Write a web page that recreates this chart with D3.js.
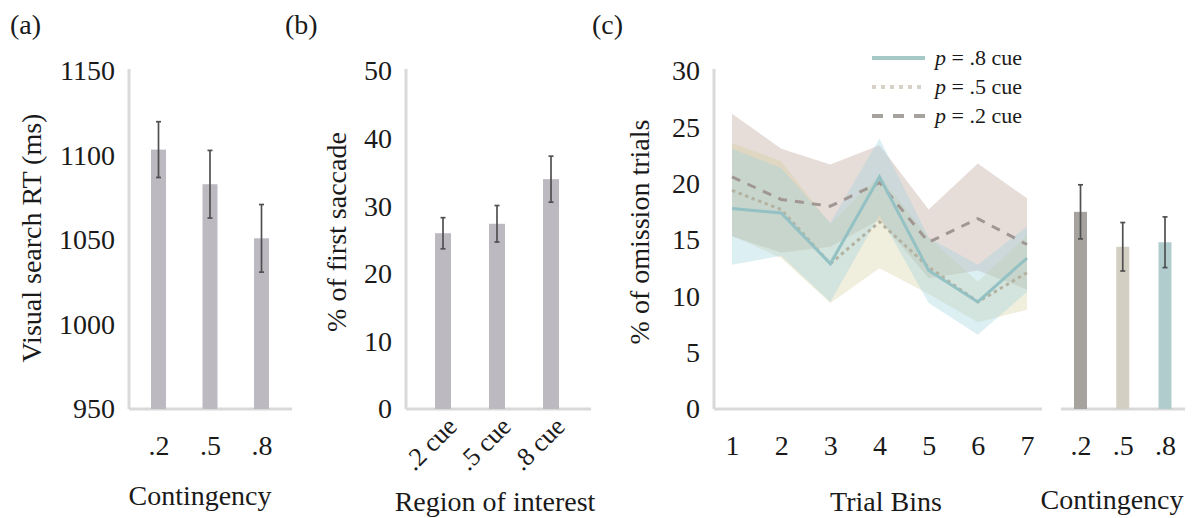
<!DOCTYPE html>
<html>
<head>
<meta charset="utf-8">
<script src="https://cdn.jsdelivr.net/npm/d3@7/dist/d3.min.js"></script>
<style>
  html, body { margin: 0; padding: 0; background: #fff; }
  svg { display: block; }
  text { font-family: "Liberation Serif", "DejaVu Serif", serif; fill: #1a1a1a; }
</style>
</head>
<body>
<svg id="chart" width="1200" height="518"></svg>
<script>
// ---- Panel (a): visual search RT by contingency ----
const rtCategories = [".2", ".5", ".8"];
const rtMeans = [1103.5, 1083, 1051];
const rtErrors = [16.5, 20, 20];
const rtTicks = [950, 1000, 1050, 1100, 1150];

// ---- Panel (b): first saccade by region of interest ----
const roiCategories = [".2 cue", ".5 cue", ".8 cue"];
const roiMeans = [26.0, 27.4, 34.0];
const roiErrors = [2.3, 2.7, 3.4];
const roiTicks = [0, 10, 20, 30, 40, 50];

// ---- Panel (c): omission trials across trial bins ----
const trialBins = [1, 2, 3, 4, 5, 6, 7];
const omissionTicks = [0, 5, 10, 15, 20, 25, 30];
const seriesNames = ["p = .8 cue", "p = .5 cue", "p = .2 cue"];
const p8Mean = [17.8, 17.4, 12.9, 20.6, 12.3, 9.5, 13.4];
const p8Upper = [23.1, 21.4, 16.5, 24.0, 15.2, 12.8, 16.2];
const p8Lower = [12.8, 13.6, 9.5, 17.2, 9.4, 6.6, 10.4];
const p5Mean = [19.4, 17.7, 12.9, 16.6, 12.6, 9.5, 12.1];
const p5Upper = [23.6, 22.0, 16.4, 20.7, 15.2, 11.3, 15.4];
const p5Lower = [15.4, 13.4, 9.4, 12.5, 10.2, 7.7, 8.8];
const p2Mean = [20.6, 18.6, 18.0, 20.1, 14.8, 16.9, 14.6];
const p2Upper = [26.2, 23.1, 21.7, 23.4, 17.7, 21.8, 18.7];
const p2Lower = [15.3, 13.9, 14.4, 16.8, 11.6, 12.3, 10.6];

// ---- Panel (c), right: overall omission by contingency ----
const contCategories = [".2", ".5", ".8"];
const contMeans = [17.5, 14.4, 14.8];
const contErrors = [2.4, 2.15, 2.25];

const svg = d3.select("#chart");
const AXIS = "#d9d9d9";
const BAR = "#bcb9c1";
const ERR = "#505050";
const TICK_FONT = 28;
const LABEL_FONT = 28;
const baseY = 409, topY = 71;

function leftAxis(scale, x, ticks) {
  const g = svg.append("g").attr("transform", `translate(${x},0)`)
    .call(d3.axisLeft(scale).tickValues(ticks).tickSize(0).tickPadding(14).tickFormat(d3.format("d")));
  g.select(".domain").remove();
  g.selectAll("text").style("font-size", TICK_FONT + "px").attr("font-family", null);
  svg.append("line").attr("x1", x).attr("x2", x).attr("y1", scale.range()[1] - 2).attr("y2", scale.range()[0])
    .attr("stroke", AXIS).attr("stroke-width", 3);
}
function baseline(x1, x2) {
  svg.append("line").attr("x1", x1).attr("x2", x2).attr("y1", baseY).attr("y2", baseY)
    .attr("stroke", AXIS).attr("stroke-width", 3);
}
function bottomLabels(scale, padding) {
  const g = svg.append("g").attr("transform", `translate(0,${baseY})`)
    .call(d3.axisBottom(scale).tickSize(0).tickPadding(padding));
  g.select(".domain").remove();
  g.selectAll("text").style("font-size", TICK_FONT + "px").attr("font-family", null);
  return g;
}
function bars(xs, ys, cats, means, errs, width, colors) {
  const g = svg.append("g");
  g.selectAll("rect").data(cats).join("rect")
    .attr("x", (d) => xs(d) - width / 2)
    .attr("width", width)
    .attr("y", (d, i) => ys(means[i]))
    .attr("height", (d, i) => ys.range()[0] - ys(means[i]))
    .attr("fill", (d, i) => Array.isArray(colors) ? colors[i] : colors);
  const eb = g.selectAll("g.err").data(cats).join("g").attr("class", "err");
  eb.append("line").attr("x1", (d) => xs(d)).attr("x2", (d) => xs(d))
    .attr("y1", (d, i) => ys(means[i] + errs[i])).attr("y2", (d, i) => ys(means[i] - errs[i]));
  eb.append("line").attr("x1", (d) => xs(d) - 2.5).attr("x2", (d) => xs(d) + 2.5)
    .attr("y1", (d, i) => ys(means[i] + errs[i])).attr("y2", (d, i) => ys(means[i] + errs[i]));
  eb.append("line").attr("x1", (d) => xs(d) - 2.5).attr("x2", (d) => xs(d) + 2.5)
    .attr("y1", (d, i) => ys(means[i] - errs[i])).attr("y2", (d, i) => ys(means[i] - errs[i]));
  eb.selectAll("line").attr("stroke", ERR).attr("stroke-width", 1.7);
}
function title(txt, x, y) {
  svg.append("text").attr("x", x).attr("y", y).attr("text-anchor", "middle").attr("dy", "0.3em")
    .style("font-size", LABEL_FONT + "px").text(txt);
}
function yTitle(txt, x, y) {
  svg.append("text").attr("transform", `translate(${x},${y}) rotate(-90)`).attr("text-anchor", "middle")
    .attr("dy", "0.3em").style("font-size", LABEL_FONT + "px").text(txt);
}
function panelTag(txt, x) {
  svg.append("text").attr("x", x).attr("y", 34).style("font-size", "28px").text(txt);
}

// ---------- (a) ----------
const yA = d3.scaleLinear().domain([950, 1150]).range([baseY, topY]);
const xA = d3.scalePoint().domain(rtCategories).range([158.5, 261.5]);
baseline(129, 292);
bars(xA, yA, rtCategories, rtMeans, rtErrors, 15, BAR);
leftAxis(yA, 129, rtTicks);
bottomLabels(xA, 26);
title("Contingency", 200, 497);
yTitle("Visual search RT (ms)", 33, 238);
panelTag("(a)", 10);

// ---------- (b) ----------
const yB = d3.scaleLinear().domain([0, 50]).range([baseY, topY]);
const xB = d3.scalePoint().domain(roiCategories).range([443, 551]);
baseline(406, 591);
bars(xB, yB, roiCategories, roiMeans, roiErrors, 16, BAR);
leftAxis(yB, 406, roiTicks);
const gB = svg.append("g").attr("transform", `translate(0,${baseY})`)
  .call(d3.axisBottom(xB).tickSize(0).tickPadding(0));
gB.select(".domain").remove();
gB.selectAll(".tick text")
  .attr("font-family", null)
  .style("font-size", "26px")
  .attr("text-anchor", "end")
  .attr("y", 0).attr("dy", 0)
  .attr("transform", "translate(15,19) rotate(-45)");
title("Region of interest", 495, 503);
yTitle("% of first saccade", 338, 232);
panelTag("(b)", 285);

// ---------- (c) line panel ----------
const yC = d3.scaleLinear().domain([0, 30]).range([baseY, topY]);
const xC = d3.scalePoint().domain(trialBins).range([732, 1027]);
baseline(714, 1042);

const series = [
  { name: seriesNames[2], mean: p2Mean, upper: p2Upper, lower: p2Lower, band: "#b89b90", line: "#a09792", dash: "9,8" },
  { name: seriesNames[1], mean: p5Mean, upper: p5Upper, lower: p5Lower, band: "#d4ce9e", line: "#b4b3a2", dash: "3.5,3.5" },
  { name: seriesNames[0], mean: p8Mean, upper: p8Upper, lower: p8Lower, band: "#9bd1dd", line: "#93c1c4", dash: null }
];
const area = (s) => d3.area().x((d, i) => xC(trialBins[i])).y0((d, i) => yC(s.lower[i])).y1((d) => yC(d))(s.upper);
const line = d3.line().x((d, i) => xC(trialBins[i])).y((d) => yC(d));

svg.append("g").selectAll("path").data(series).join("path")
  .attr("d", (s) => area(s)).attr("fill", (s) => s.band).attr("fill-opacity", 0.35);
svg.append("g").selectAll("path").data(series).join("path")
  .attr("d", (s) => line(s.mean)).attr("fill", "none").attr("stroke", (s) => s.line)
  .attr("stroke-width", 3).attr("stroke-dasharray", (s) => s.dash);

leftAxis(yC, 714, omissionTicks);
bottomLabels(xC, 26);
title("Trial Bins", 886, 503);
yTitle("% of omission trials", 641, 232);
panelTag("(c)", 592);

// legend
const legendItems = [
  { label: seriesNames[0], color: "#a5c9c6", dash: null },
  { label: seriesNames[1], color: "#d6d3c6", dash: "4,5" },
  { label: seriesNames[2], color: "#a6a39e", dash: "11,10" }
];
const lg = svg.append("g").selectAll("g").data(legendItems).join("g")
  .attr("transform", (d, i) => `translate(872,${58 + i * 29})`);
lg.append("line").attr("x1", 0).attr("x2", 53).attr("y1", 0).attr("y2", 0)
  .attr("stroke", (d) => d.color).attr("stroke-width", 4).attr("stroke-dasharray", (d) => d.dash);
const lt = lg.append("text").attr("x", 63).attr("dy", "0.33em").style("font-size", "22px");
lt.append("tspan").attr("font-style", "italic").text((d) => d.label.split(" ")[0]);
lt.append("tspan").text((d) => d.label.slice(1));

// ---------- (c) contingency bars ----------
const xD = d3.scalePoint().domain(contCategories).range([1080.5, 1165]);
baseline(1061, 1185);
bars(xD, yC, contCategories, contMeans, contErrors, 13, ["#a6a39e", "#d3cfc3", "#b0cccc"]);
bottomLabels(xD, 26);
title("Contingency", 1112, 501);
</script>
</body>
</html>
